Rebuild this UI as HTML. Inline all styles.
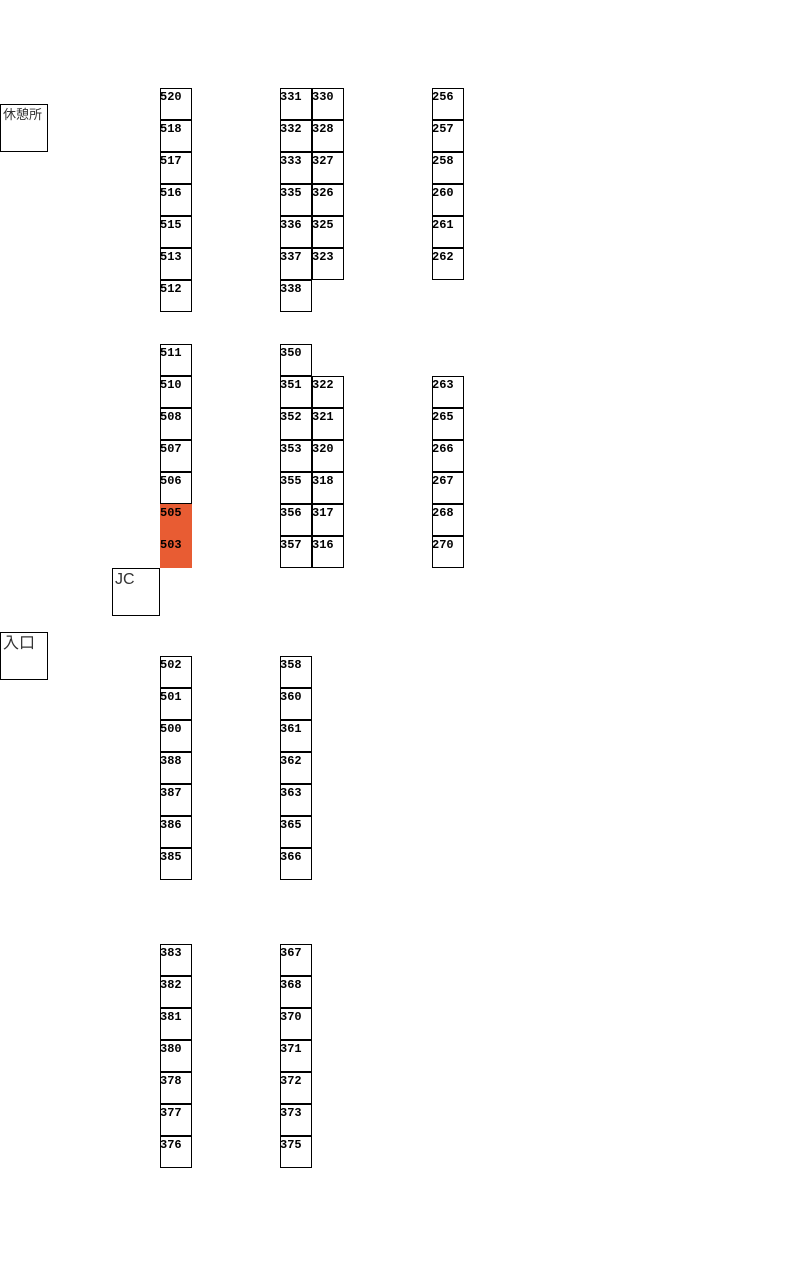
<!DOCTYPE html>
<html><head><meta charset="utf-8"><style>
body{margin:0;width:787px;height:1262px;background:#fff;position:relative;overflow:hidden}
.c{position:absolute;width:30px;height:30px;border:1px solid #000;font:bold 12px "Liberation Mono",monospace;line-height:12px;padding:0;box-sizing:content-box}
.c span{position:absolute;left:-1px;top:2px}
.o{background:#e85c33;border-color:#e85c33}
.b{position:absolute;width:46px;height:46px;border:1px solid #000;font-family:"Liberation Sans","Noto Sans CJK JP",sans-serif;color:#333}
</style></head><body>
<div class="b" style="left:0;top:104px;font-size:13px;line-height:18px"><span style="position:absolute;left:2px;top:1px">休憩所</span></div>
<div class="b" style="left:112px;top:568px;font-size:16px"><span style="position:absolute;left:2px;top:2px">JC</span></div>
<div class="b" style="left:0;top:632px;font-size:16px;line-height:18px"><span style="position:absolute;left:2px;top:2px">入口</span></div>

<div class="c" style="left:160px;top:88px"><span>520</span></div>
<div class="c" style="left:160px;top:120px"><span>518</span></div>
<div class="c" style="left:160px;top:152px"><span>517</span></div>
<div class="c" style="left:160px;top:184px"><span>516</span></div>
<div class="c" style="left:160px;top:216px"><span>515</span></div>
<div class="c" style="left:160px;top:248px"><span>513</span></div>
<div class="c" style="left:160px;top:280px"><span>512</span></div>
<div class="c" style="left:160px;top:344px"><span>511</span></div>
<div class="c" style="left:160px;top:376px"><span>510</span></div>
<div class="c" style="left:160px;top:408px"><span>508</span></div>
<div class="c" style="left:160px;top:440px"><span>507</span></div>
<div class="c" style="left:160px;top:472px"><span>506</span></div>
<div class="c o" style="left:160px;top:504px"><span>505</span></div>
<div class="c o" style="left:160px;top:536px"><span>503</span></div>
<div class="c" style="left:160px;top:656px"><span>502</span></div>
<div class="c" style="left:160px;top:688px"><span>501</span></div>
<div class="c" style="left:160px;top:720px"><span>500</span></div>
<div class="c" style="left:160px;top:752px"><span>388</span></div>
<div class="c" style="left:160px;top:784px"><span>387</span></div>
<div class="c" style="left:160px;top:816px"><span>386</span></div>
<div class="c" style="left:160px;top:848px"><span>385</span></div>
<div class="c" style="left:160px;top:944px"><span>383</span></div>
<div class="c" style="left:160px;top:976px"><span>382</span></div>
<div class="c" style="left:160px;top:1008px"><span>381</span></div>
<div class="c" style="left:160px;top:1040px"><span>380</span></div>
<div class="c" style="left:160px;top:1072px"><span>378</span></div>
<div class="c" style="left:160px;top:1104px"><span>377</span></div>
<div class="c" style="left:160px;top:1136px"><span>376</span></div>

<div class="c" style="left:280px;top:88px"><span>331</span></div>
<div class="c" style="left:280px;top:120px"><span>332</span></div>
<div class="c" style="left:280px;top:152px"><span>333</span></div>
<div class="c" style="left:280px;top:184px"><span>335</span></div>
<div class="c" style="left:280px;top:216px"><span>336</span></div>
<div class="c" style="left:280px;top:248px"><span>337</span></div>
<div class="c" style="left:280px;top:280px"><span>338</span></div>
<div class="c" style="left:280px;top:344px"><span>350</span></div>
<div class="c" style="left:280px;top:376px"><span>351</span></div>
<div class="c" style="left:280px;top:408px"><span>352</span></div>
<div class="c" style="left:280px;top:440px"><span>353</span></div>
<div class="c" style="left:280px;top:472px"><span>355</span></div>
<div class="c" style="left:280px;top:504px"><span>356</span></div>
<div class="c" style="left:280px;top:536px"><span>357</span></div>
<div class="c" style="left:280px;top:656px"><span>358</span></div>
<div class="c" style="left:280px;top:688px"><span>360</span></div>
<div class="c" style="left:280px;top:720px"><span>361</span></div>
<div class="c" style="left:280px;top:752px"><span>362</span></div>
<div class="c" style="left:280px;top:784px"><span>363</span></div>
<div class="c" style="left:280px;top:816px"><span>365</span></div>
<div class="c" style="left:280px;top:848px"><span>366</span></div>
<div class="c" style="left:280px;top:944px"><span>367</span></div>
<div class="c" style="left:280px;top:976px"><span>368</span></div>
<div class="c" style="left:280px;top:1008px"><span>370</span></div>
<div class="c" style="left:280px;top:1040px"><span>371</span></div>
<div class="c" style="left:280px;top:1072px"><span>372</span></div>
<div class="c" style="left:280px;top:1104px"><span>373</span></div>
<div class="c" style="left:280px;top:1136px"><span>375</span></div>

<div class="c" style="left:312px;top:88px"><span>330</span></div>
<div class="c" style="left:312px;top:120px"><span>328</span></div>
<div class="c" style="left:312px;top:152px"><span>327</span></div>
<div class="c" style="left:312px;top:184px"><span>326</span></div>
<div class="c" style="left:312px;top:216px"><span>325</span></div>
<div class="c" style="left:312px;top:248px"><span>323</span></div>
<div class="c" style="left:312px;top:376px"><span>322</span></div>
<div class="c" style="left:312px;top:408px"><span>321</span></div>
<div class="c" style="left:312px;top:440px"><span>320</span></div>
<div class="c" style="left:312px;top:472px"><span>318</span></div>
<div class="c" style="left:312px;top:504px"><span>317</span></div>
<div class="c" style="left:312px;top:536px"><span>316</span></div>

<div class="c" style="left:432px;top:88px"><span>256</span></div>
<div class="c" style="left:432px;top:120px"><span>257</span></div>
<div class="c" style="left:432px;top:152px"><span>258</span></div>
<div class="c" style="left:432px;top:184px"><span>260</span></div>
<div class="c" style="left:432px;top:216px"><span>261</span></div>
<div class="c" style="left:432px;top:248px"><span>262</span></div>
<div class="c" style="left:432px;top:376px"><span>263</span></div>
<div class="c" style="left:432px;top:408px"><span>265</span></div>
<div class="c" style="left:432px;top:440px"><span>266</span></div>
<div class="c" style="left:432px;top:472px"><span>267</span></div>
<div class="c" style="left:432px;top:504px"><span>268</span></div>
<div class="c" style="left:432px;top:536px"><span>270</span></div>
</body></html>
